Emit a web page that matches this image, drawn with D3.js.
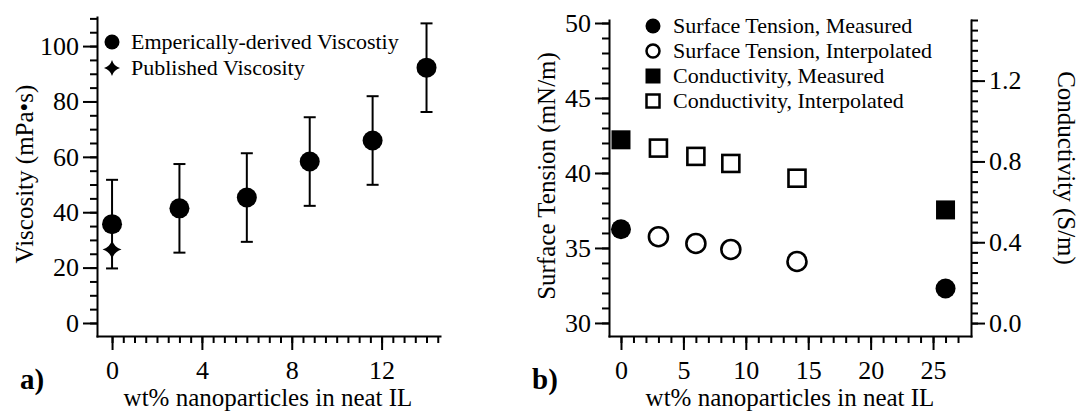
<!DOCTYPE html>
<html>
<head>
<meta charset="utf-8">
<script src="https://cdn.jsdelivr.net/npm/d3@7"></script>
<style>
  body { margin: 0; background: #fff; }
  text { font-family: "Liberation Serif", "Times New Roman", serif; fill: #000; }
</style>
</head>
<body>
<div id="chart"></div>
<script>
const width = 1080,
  height = 413

/* DATA */
// panel a) viscosity
const visX = [0, 3, 6, 8.8, 11.6, 14]
const visY = [35.7, 41.4, 45.3, 58.3, 65.9, 92.2]
const visErr = [16, 16, 16, 16, 16, 16]
const pubX = [0]
const pubY = [26.5]
const visXTicks = [0, 4, 8, 12]
const visYTicks = [0, 20, 40, 60, 80, 100]

// panel b) surface tension + conductivity
const stMeasX = [0, 26]
const stMeasY = [36.25, 32.3]
const stInterpX = [3, 6, 8.8, 14.1]
const stInterpY = [35.75, 35.3, 34.9, 34.1]
const condMeasX = [0, 26]
const condMeasY = [0.907, 0.56]
const condInterpX = [3, 6, 8.8, 14.1]
const condInterpY = [0.866, 0.825, 0.79, 0.717]
const bXTicks = [0, 5, 10, 15, 20, 25]
const stTicks = [30, 35, 40, 45, 50]
const condTicks = [0, 0.4, 0.8, 1.2]

const svg = d3.select("#chart")
  .append("svg")
  .attr("width", width)
  .attr("height", height)

/* SCALES */
const xA = d3.scaleLinear().domain([-0.67, 14.6]).range([97, 440])
const yA = d3.scaleLinear().domain([-4.7, 110.5]).range([336, 17])

const xB = d3.scaleLinear().domain([-0.96, 28.04]).range([609, 971])
const yB = d3.scaleLinear().domain([29.13, 50.2]).range([336, 20])
const yC = d3.scaleLinear().domain([-0.064, 1.5]).range([336, 20])

// helper: major + minor ticks, both from d3 axes
function drawAxis(axisFn, scale, major, minor, transform, fmt) {
  const g = svg.append("g").attr("transform", transform)
  g.append("g")
    .call(axisFn(scale).tickValues(minor).tickSize(7).tickSizeOuter(0).tickFormat(""))
    .call(s => s.select(".domain").remove())
  const m = g.append("g")
    .call(axisFn(scale).tickValues(major).tickSize(14).tickSizeOuter(0).tickPadding(4).tickFormat(fmt))
  m.select(".domain").attr("stroke-width", 2).attr("stroke-linecap", "square")
  g.selectAll("line").attr("stroke-width", 2)
  m.selectAll("text").attr("font-size", 26).attr("fill", "#000")
  return m
}

/* PANEL A AXES */
drawAxis(d3.axisBottom, xA, visXTicks, d3.range(0, 14.51, 0.5), `translate(0,336)`, d3.format("d"))
  .selectAll("text").attr("dy", "0.96em")
drawAxis(d3.axisLeft, yA, visYTicks, d3.range(0, 110.1, 5), `translate(97,0)`, d3.format("d"))

/* PANEL B AXES */
drawAxis(d3.axisBottom, xB, bXTicks, d3.range(0, 27.1, 1), `translate(0,336)`, d3.format("d"))
  .selectAll("text").attr("dy", "0.96em")
drawAxis(d3.axisLeft, yB, stTicks, d3.range(30, 50.1, 1), `translate(609,0)`, d3.format("d"))
drawAxis(d3.axisRight, yC, condTicks, d3.range(0, 1.501, 0.05), `translate(971,0)`, d3.format(".1f"))

/* TITLES */
svg.append("text")
  .attr("transform", "translate(33,174) rotate(-90)")
  .attr("text-anchor", "middle")
  .attr("font-size", 25)
  .text("Viscosity (mPa•s)")

svg.append("text")
  .attr("x", 268).attr("y", 406)
  .attr("text-anchor", "middle")
  .attr("font-size", 25)
  .text("wt% nanoparticles in neat IL")

svg.append("text")
  .attr("transform", "translate(555,176) rotate(-90)")
  .attr("text-anchor", "middle")
  .attr("font-size", 25)
  .text("Surface Tension (mN/m)")

svg.append("text")
  .attr("transform", "translate(1058,168) rotate(90)")
  .attr("text-anchor", "middle")
  .attr("font-size", 25)
  .text("Conductivity (S/m)")

svg.append("text")
  .attr("x", 790).attr("y", 406)
  .attr("text-anchor", "middle")
  .attr("font-size", 25)
  .text("wt% nanoparticles in neat IL")

svg.append("text")
  .attr("x", 20).attr("y", 389)
  .attr("font-size", 29)
  .attr("font-weight", "bold")
  .text("a)")

svg.append("text")
  .attr("x", 532).attr("y", 389)
  .attr("font-size", 29)
  .attr("font-weight", "bold")
  .text("b)")

/* MARKS - PANEL A */
const visData = visX.map((x, i) => ({ x, y: visY[i], e: visErr[i] }))
const capW = 6

const bars = svg.append("g").attr("stroke", "#000").attr("stroke-width", 2)
visData.forEach(d => {
  const cx = xA(d.x)
  bars.append("line").attr("x1", cx).attr("x2", cx).attr("y1", yA(d.y - d.e)).attr("y2", yA(d.y + d.e))
  bars.append("line").attr("x1", cx - capW).attr("x2", cx + capW).attr("y1", yA(d.y + d.e)).attr("y2", yA(d.y + d.e))
  bars.append("line").attr("x1", cx - capW).attr("x2", cx + capW).attr("y1", yA(d.y - d.e)).attr("y2", yA(d.y - d.e))
})

svg.append("g").selectAll("circle")
  .data(visData)
  .join("circle")
  .attr("cx", d => xA(d.x))
  .attr("cy", d => yA(d.y))
  .attr("r", 10)
  .attr("fill", "#000")

// four-pointed star with concave sides
const star = s => `M0,${-s} Q${s * 0.22},${-s * 0.22} ${s},0 Q${s * 0.22},${s * 0.22} 0,${s} Q${-s * 0.22},${s * 0.22} ${-s},0 Q${-s * 0.22},${-s * 0.22} 0,${-s} Z`

svg.append("g").selectAll("path")
  .data(pubX.map((x, i) => ({ x, y: pubY[i] })))
  .join("path")
  .attr("d", star(9.5))
  .attr("transform", d => `translate(${xA(d.x)},${yA(d.y)})`)
  .attr("fill", "#000")

/* MARKS - PANEL B */
svg.append("g").selectAll("rect")
  .data(condInterpX.map((x, i) => ({ x, y: condInterpY[i] })))
  .join("rect")
  .attr("x", d => xB(d.x) - 8.5)
  .attr("y", d => yC(d.y) - 8.5)
  .attr("width", 17).attr("height", 17)
  .attr("fill", "#fff").attr("stroke", "#000").attr("stroke-width", 2.6)

svg.append("g").selectAll("rect")
  .data(condMeasX.map((x, i) => ({ x, y: condMeasY[i] })))
  .join("rect")
  .attr("x", d => xB(d.x) - 9.5)
  .attr("y", d => yC(d.y) - 9.5)
  .attr("width", 19).attr("height", 19)
  .attr("fill", "#000")

svg.append("g").selectAll("circle")
  .data(stInterpX.map((x, i) => ({ x, y: stInterpY[i] })))
  .join("circle")
  .attr("cx", d => xB(d.x))
  .attr("cy", d => yB(d.y))
  .attr("r", 9.5)
  .attr("fill", "#fff").attr("stroke", "#000").attr("stroke-width", 2.6)

svg.append("g").selectAll("circle")
  .data(stMeasX.map((x, i) => ({ x, y: stMeasY[i] })))
  .join("circle")
  .attr("cx", d => xB(d.x))
  .attr("cy", d => yB(d.y))
  .attr("r", 10)
  .attr("fill", "#000")

/* LEGENDS */
const legA = svg.append("g").attr("transform", "translate(112,42)")
legA.append("circle").attr("r", 7.5).attr("fill", "#000")
legA.append("path").attr("d", star(8)).attr("transform", "translate(0,26)").attr("fill", "#000")
legA.selectAll("text")
  .data(["Emperically-derived Viscostiy", "Published Viscosity"])
  .join("text")
  .attr("x", 19)
  .attr("y", (d, i) => i * 26)
  .attr("dy", "0.33em")
  .attr("font-size", 22)
  .text(d => d)

const legB = svg.append("g").attr("transform", "translate(653,26)")
legB.append("circle").attr("r", 7.5).attr("fill", "#000")
legB.append("circle").attr("cy", 25).attr("r", 6.5).attr("fill", "#fff").attr("stroke", "#000").attr("stroke-width", 2.5)
legB.append("rect").attr("x", -7.5).attr("y", 50 - 7.5).attr("width", 15).attr("height", 15).attr("fill", "#000")
legB.append("rect").attr("x", -6.5).attr("y", 75 - 6.5).attr("width", 13).attr("height", 13).attr("fill", "#fff").attr("stroke", "#000").attr("stroke-width", 2.5)
legB.selectAll("text")
  .data(["Surface Tension, Measured", "Surface Tension, Interpolated", "Conductivity, Measured", "Conductivity, Interpolated"])
  .join("text")
  .attr("x", 20)
  .attr("y", (d, i) => i * 25)
  .attr("dy", "0.33em")
  .attr("font-size", 22)
  .text(d => d)
</script>
</body>
</html>
